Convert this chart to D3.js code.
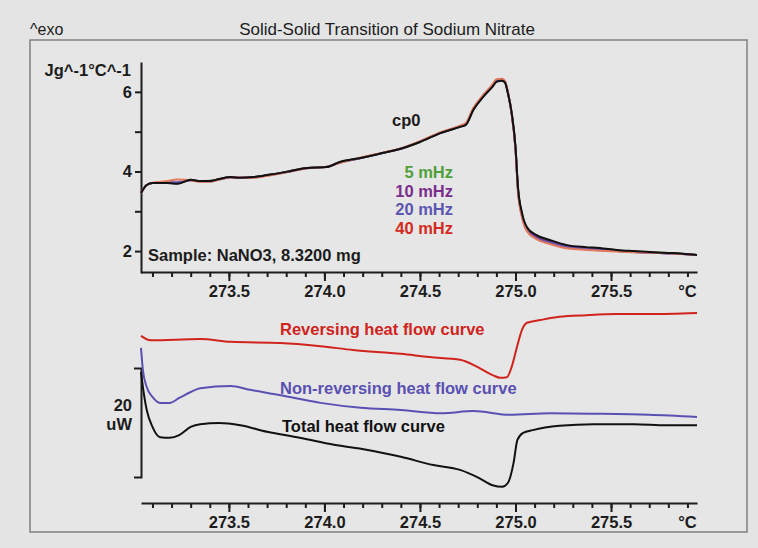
<!DOCTYPE html>
<html lang="en">
<head>
<meta charset="utf-8">
<title>Solid-Solid Transition of Sodium Nitrate</title>
<script src="https://cdn.jsdelivr.net/npm/d3@7"></script>
<style>
    body { margin: 0; background: #e4e4e4; }
    text { font-family: "Liberation Sans", Arial, Helvetica, sans-serif; fill: #1c1c1c; }
    .tick text { font-size: 16.5px; font-weight: bold; }
</style>
</head>
<body>
<script>
// upper panel: heat capacity, Jg^-1°C^-1
var cpTemp = [273.04, 273.07, 273.10, 273.18, 273.23, 273.30, 273.35, 273.40, 273.45, 273.51, 273.56, 273.63, 273.70, 273.80, 273.91, 274.01, 274.08, 274.19, 274.31, 274.40, 274.50, 274.61, 274.71, 274.74, 274.78, 274.83, 274.88, 274.90, 274.93, 274.945, 274.96, 274.98, 275.00, 275.013, 275.034, 275.06, 275.11, 275.18, 275.27, 275.37, 275.44, 275.53, 275.62, 275.72, 275.82, 275.95];
var cp0  = [3.46, 3.66, 3.71, 3.71, 3.69, 3.79, 3.76, 3.76, 3.81, 3.86, 3.84, 3.86, 3.91, 3.99, 4.09, 4.11, 4.24, 4.34, 4.47, 4.57, 4.74, 4.97, 5.12, 5.17, 5.55, 5.87, 6.13, 6.25, 6.28, 6.23, 5.97, 5.47, 4.62, 3.61, 2.96, 2.60, 2.40, 2.28, 2.15, 2.10, 2.08, 2.03, 2.00, 1.97, 1.95, 1.90];
var cp5  = [3.46, 3.66, 3.71, 3.72, 3.70, 3.79, 3.76, 3.77, 3.81, 3.86, 3.84, 3.86, 3.91, 3.99, 4.09, 4.11, 4.23, 4.34, 4.47, 4.57, 4.74, 4.97, 5.12, 5.18, 5.56, 5.88, 6.14, 6.26, 6.29, 6.24, 5.98, 5.46, 4.60, 3.58, 2.93, 2.57, 2.37, 2.26, 2.13, 2.08, 2.06, 2.02, 1.99, 1.97, 1.95, 1.90];
var cp10 = [3.46, 3.66, 3.71, 3.72, 3.71, 3.78, 3.76, 3.76, 3.81, 3.86, 3.84, 3.86, 3.91, 3.99, 4.09, 4.11, 4.23, 4.34, 4.47, 4.57, 4.75, 4.97, 5.13, 5.19, 5.57, 5.89, 6.15, 6.27, 6.30, 6.25, 5.99, 5.46, 4.59, 3.56, 2.91, 2.55, 2.35, 2.24, 2.12, 2.07, 2.05, 2.01, 1.98, 1.96, 1.94, 1.90];
var cp20 = [3.46, 3.66, 3.71, 3.73, 3.73, 3.78, 3.75, 3.75, 3.80, 3.85, 3.84, 3.85, 3.90, 3.98, 4.08, 4.11, 4.22, 4.34, 4.47, 4.58, 4.75, 4.98, 5.14, 5.20, 5.58, 5.90, 6.16, 6.29, 6.31, 6.26, 5.99, 5.45, 4.57, 3.53, 2.88, 2.52, 2.32, 2.21, 2.10, 2.05, 2.03, 2.00, 1.98, 1.96, 1.94, 1.90];
var cp40 = [3.46, 3.66, 3.72, 3.76, 3.80, 3.78, 3.74, 3.74, 3.80, 3.85, 3.85, 3.84, 3.89, 3.98, 4.08, 4.12, 4.22, 4.35, 4.48, 4.58, 4.76, 4.99, 5.15, 5.22, 5.60, 5.92, 6.19, 6.32, 6.33, 6.27, 6.00, 5.45, 4.55, 3.50, 2.85, 2.50, 2.30, 2.18, 2.07, 2.03, 2.01, 1.99, 1.97, 1.96, 1.94, 1.90];
var freqLabels = ["5 mHz", "10 mHz", "20 mHz", "40 mHz"];
var freqColors = ["#4f9f3a", "#7b2d8e", "#5c55b3", "#e2785c"];
var freqTextColors = ["#4f9f3a", "#7b2d8e", "#5c55b3", "#d42a20"];

// lower panel: heat flow, uW (relative)
var revTemp = [273.04, 273.09, 273.35, 273.51, 273.77, 273.98, 274.15, 274.40, 274.55, 274.71, 274.80, 274.88, 274.92, 274.955, 274.98, 275.008, 275.034, 275.06, 275.13, 275.23, 275.37, 275.53, 275.70, 275.95];
var revHF   = [25.9, 25.1, 25.3, 24.8, 24.6, 24.0, 23.3, 22.6, 22.0, 21.5, 20.2, 18.7, 18.2, 18.3, 20.2, 23.9, 27.0, 28.3, 28.8, 29.4, 29.7, 29.9, 29.9, 30.1];
var nonTemp = [273.04, 273.05, 273.07, 273.10, 273.14, 273.19, 273.24, 273.30, 273.35, 273.51, 273.61, 273.77, 273.98, 274.19, 274.40, 274.61, 274.78, 274.97, 275.18, 275.44, 275.70, 275.95];
var nonHF   = [23.7, 19.6, 16.5, 14.7, 13.6, 13.6, 14.5, 15.6, 16.3, 16.7, 16.0, 15.0, 13.6, 12.7, 12.3, 11.7, 12.1, 11.4, 11.7, 11.6, 11.4, 11.0];
var totTemp = [273.04, 273.05, 273.07, 273.10, 273.14, 273.19, 273.24, 273.30, 273.35, 273.45, 273.56, 273.70, 273.87, 274.05, 274.22, 274.40, 274.57, 274.71, 274.81, 274.88, 274.93, 274.96, 274.99, 275.01, 275.04, 275.09, 275.23, 275.41, 275.62, 275.79, 275.95];
var totHF   = [19.3, 16.5, 12.3, 9.2, 7.3, 7.2, 7.7, 9.2, 9.7, 9.9, 9.5, 8.3, 7.2, 5.9, 5.0, 3.7, 2.2, 1.3, -0.2, -1.5, -1.8, -1.1, 2.6, 6.8, 8.1, 8.6, 9.4, 9.7, 9.7, 9.5, 9.5];

var majorTicks = [273.5, 274.0, 274.5, 275.0, 275.5];
var minorTicks = d3.range(273.1, 275.95, 0.1).map(d => +d.toFixed(1));

var width = 758, height = 548;
var fs = 16.5;
var svg = d3.select("body").append("svg")
    .attr("width", width)
    .attr("height", height);

svg.append("rect")
    .attr("x", 30).attr("y", 40)
    .attr("width", 717).attr("height", 492)
    .attr("fill", "#e6e6e6")
    .attr("stroke", "#808080")
    .attr("stroke-width", 1.5);

svg.append("text").text("^exo")
    .attr("x", 30).attr("y", 35)
    .attr("font-size", 16);
svg.append("text").text("Solid-Solid Transition of Sodium Nitrate")
    .attr("x", 387).attr("y", 35)
    .attr("text-anchor", "middle")
    .attr("font-size", 17);

var x = d3.scaleLinear().domain([273.04, 275.95]).range([141, 697]);
var yUp = d3.scaleLinear().domain([1.45, 6.75]).range([273, 62]);
var yLow = d3.scaleLinear().domain([0, 20]).range([477, 368]);

function xAxis(yPos) {
    var g = svg.append("g").attr("transform", `translate(0,${yPos})`);
    g.append("g")
        .call(d3.axisBottom(x).tickValues(minorTicks).tickSize(5).tickSizeOuter(0).tickFormat(""));
    g.append("g")
        .call(d3.axisBottom(x).tickValues(majorTicks).tickSize(9).tickSizeOuter(0).tickFormat(d3.format(".1f")))
        .call(a => a.select(".domain").remove());
    g.selectAll("path, line").attr("stroke", "#1c1c1c").attr("stroke-width", 2);
    g.selectAll(".tick text").attr("y", 25).attr("dy", 0);
    g.append("text").text("°C")
        .attr("x", x(275.9)).attr("y", 25)
        .attr("text-anchor", "middle")
        .attr("font-size", fs).attr("font-weight", "bold");
}
xAxis(272);
xAxis(503);

// upper y axis
var ya = svg.append("g").attr("transform", "translate(141,0)")
    .call(d3.axisLeft(yUp).tickValues([2, 3, 4, 5, 6]).tickSize(6).tickSizeOuter(0)
        .tickFormat(d => d % 2 == 0 ? d : ""));
ya.selectAll("path, line").attr("stroke", "#1c1c1c").attr("stroke-width", 2);
ya.selectAll(".tick text").attr("x", -9);
svg.append("text").text("Jg^-1°C^-1")
    .attr("x", 131).attr("y", 76)
    .attr("text-anchor", "end")
    .attr("font-size", fs).attr("font-weight", "bold");

// lower scale bar
var sb = svg.append("g").attr("transform", "translate(141,0)")
    .call(d3.axisLeft(yLow).tickValues([]).tickSizeOuter(7));
sb.selectAll("path").attr("stroke", "#1c1c1c").attr("stroke-width", 2).attr("fill", "none");
svg.append("text").text("20")
    .attr("x", 132).attr("y", 411)
    .attr("text-anchor", "end")
    .attr("font-size", fs).attr("font-weight", "bold");
svg.append("text").text("uW")
    .attr("x", 132).attr("y", 430)
    .attr("text-anchor", "end")
    .attr("font-size", fs).attr("font-weight", "bold");

// curves
var upLine = d3.line()
    .x(d => x(d[0]))
    .y(d => yUp(d[1]))
    .curve(d3.curveMonotoneX);
var lowLine = d3.line()
    .x(d => x(d[0]))
    .y(d => yLow(d[1]))
    .curve(d3.curveMonotoneX);

[cp5, cp10, cp20, cp40].forEach((s, i) => {
    svg.append("path")
        .datum(d3.zip(cpTemp, s))
        .attr("d", upLine)
        .attr("fill", "none")
        .attr("stroke", freqColors[i])
        .attr("stroke-width", 2);
});
svg.append("path")
    .datum(d3.zip(cpTemp, cp0))
    .attr("d", upLine)
    .attr("fill", "none")
    .attr("stroke", "#111")
    .attr("stroke-width", 2);

svg.append("text").text("cp0")
    .attr("x", 392).attr("y", 126)
    .attr("font-size", fs).attr("font-weight", "bold");
svg.selectAll(".freq")
    .data(freqLabels)
    .join("text")
    .attr("class", "freq")
    .text(d => d)
    .attr("x", 453)
    .attr("y", (d, i) => 178 + i * 18.5)
    .attr("text-anchor", "end")
    .attr("font-size", fs).attr("font-weight", "bold")
    .style("fill", (d, i) => freqTextColors[i]);
svg.append("text").text("Sample: NaNO3, 8.3200 mg")
    .attr("x", 148).attr("y", 261)
    .attr("font-size", fs).attr("font-weight", "bold");

var lowSeries = [
    { t: revTemp, v: revHF, color: "#d0231c", label: "Reversing heat flow curve", lx: 280, ly: 335 },
    { t: nonTemp, v: nonHF, color: "#5a50b2", label: "Non-reversing heat flow curve", lx: 280, ly: 394 },
    { t: totTemp, v: totHF, color: "#111", label: "Total heat flow curve", lx: 282, ly: 432 }
];
lowSeries.forEach(s => {
    svg.append("path")
        .datum(d3.zip(s.t, s.v))
        .attr("d", lowLine)
        .attr("fill", "none")
        .attr("stroke", s.color)
        .attr("stroke-width", 2);
    svg.append("text").text(s.label)
        .attr("x", s.lx).attr("y", s.ly)
        .attr("font-size", fs).attr("font-weight", "bold")
        .style("fill", s.color);
});
</script>
</body>
</html>
